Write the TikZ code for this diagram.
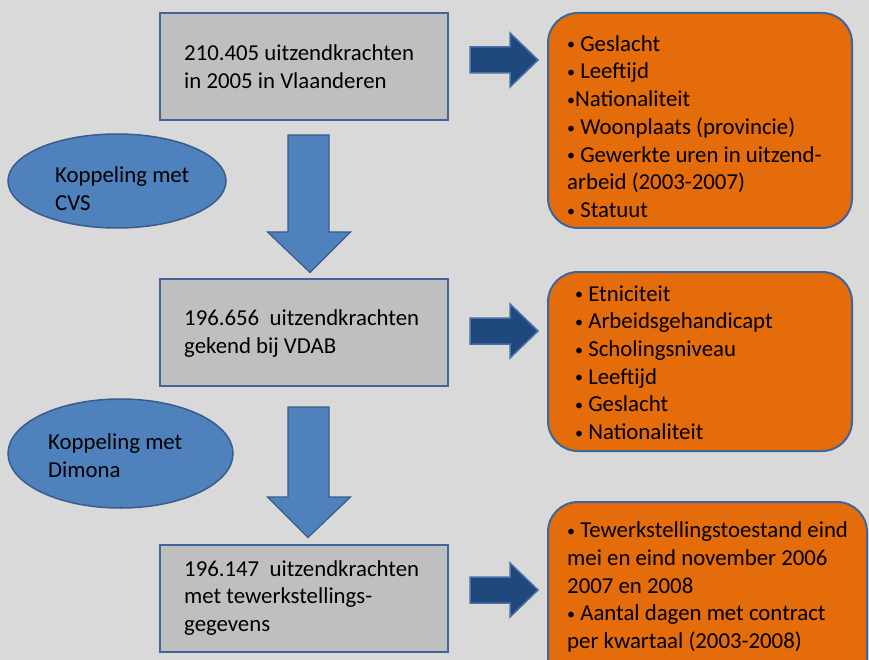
\documentclass[tikz,border=0pt]{standalone}
\usepackage{fontspec}
\setmainfont{Carlito}
\usetikzlibrary{shapes.geometric,calc}

\definecolor{bgGray}{HTML}{D9D9D9}
\definecolor{boxGray}{HTML}{BFBFBF}
\definecolor{edgeBlue}{HTML}{41659B}
\definecolor{accBlue}{HTML}{4F81BD}
\definecolor{accEdge}{HTML}{385D8A}
\definecolor{darkBlue}{HTML}{1F497D}
\definecolor{arrEdge}{HTML}{4A6FA5}
\definecolor{orangeFill}{HTML}{E46C0A}

% small list bullet
\newcommand{\lbul}{\raisebox{0.12ex}{\scalebox{0.7}{\textbullet}}}

\tikzset{
  txt/.style={font=\fontsize{22.8}{27.7}\selectfont, text=black},
  graybox/.style={draw=edgeBlue, line width=2pt, fill=boxGray,
    rectangle, inner sep=0pt, minimum width=288pt, minimum height=107pt},
  orangebox/.style={draw=edgeBlue, line width=2pt, fill=orangeFill,
    rectangle, rounded corners=30pt, inner sep=0pt},
  listtext/.style={txt, align=left, inner sep=0pt, anchor=west},
  blob/.style={ellipse, draw=accEdge, line width=1.5pt, fill=accBlue, inner sep=0pt},
  downarrow/.style={draw=accEdge, line width=1.2pt, fill=accBlue, line join=miter},
  rightarrow/.style={draw=arrEdge, line width=1.5pt, fill=darkBlue, line join=miter},
}

\begin{document}
\begin{tikzpicture}[x=1pt,y=-1pt]
  % canvas
  \fill[bgGray] (0,0) rectangle (869,660);
  \useasboundingbox (0,0) rectangle (869,660);
  \clip (0,0) rectangle (869,660);

  % main flow of counts
  \node[graybox] (b1) at (304,66.5) {};
  \node[listtext] (b1t) at ($(b1.west)+(25,0)$) {210.405 uitzendkrachten\\in 2005 in Vlaanderen};
  \node[graybox] (b2) at (304,332.5) {};
  \node[listtext] (b2t) at ($(b2.west)+(25,1)$) {196.656\ \ uitzendkrachten\\gekend bij VDAB};
  \node[graybox] (b3) at (304,598) {};
  \node[listtext] (b3t) at ($(b3.west)+(25,0)$) {196.147\ \ uitzendkrachten\\met tewerkstellings-\\gegevens};

  % linkage ellipses
  \node[blob, minimum width=218pt, minimum height=94pt] (e1) at (117,181) {};
  \node[listtext] (e1t) at (55,188.5) {Koppeling met\\CVS};
  \node[blob, minimum width=225pt, minimum height=109pt] (e2) at (120.5,453.5) {};
  \node[listtext] (e2t) at (48,456) {Koppeling met\\Dimona};

  % variable lists
  \node[orangebox, minimum width=304pt, minimum height=215pt] (o1) at (700,120.5) {};
  \node[listtext] (o1t) at (567,126.5) {%
    \lbul\ Geslacht\\
    \lbul\ Leeftijd\\
    \lbul Nationaliteit\\
    \lbul\ Woonplaats (provincie)\\
    \lbul\ Gewerkte uren in uitzend-\\
    arbeid (2003-2007)\\
    \lbul\ Statuut};

  \node[orangebox, minimum width=304pt, minimum height=179pt] (o2) at (700,361.5) {};
  \node[listtext] (o2t) at (575,362.5) {%
    \lbul\ Etniciteit\\
    \lbul\ Arbeidsgehandicapt\\
    \lbul\ Scholingsniveau\\
    \lbul\ Leeftijd\\
    \lbul\ Geslacht\\
    \lbul\ Nationaliteit};

  \node[orangebox, minimum width=319pt, minimum height=200pt] (o3) at (707.5,602) {};
  \node[listtext] (o3t) at (567,587) {%
    \lbul\ Tewerkstellingstoestand eind\\
    mei en eind november 2006\\
    2007 en 2008\\
    \lbul\ Aantal dagen met contract\\
    per kwartaal (2003-2008)};

  % downward block arrows between the count boxes
  \coordinate (d1s) at ($(b1.south)+(4.5,14)$);
  \coordinate (d1e) at ($(b2.north)+(6,-5.5)$);
  \coordinate (d2s) at ($(b2.south)+(4.5,20)$);
  \coordinate (d2e) at ($(b3.north)+(4,-6)$);
  \foreach \s/\e in {d1s/d1e, d2s/d2e}{
    \draw[downarrow]
      ($(\s)+(-20.5,0)$) -- ($(\s)+(20.5,0)$)
      -- ($(\s |- \e)+(20.5,-40.5)$) -- ($(\s |- \e)+(42,-40.5)$)
      -- (\e)
      -- ($(\s |- \e)+(-41,-40.5)$) -- ($(\s |- \e)+(-20.5,-40.5)$) -- cycle;
  }

  % rightward block arrows towards the variable lists
  \coordinate (r1s) at ($(b1.east |- 0,60)+(21,0)$);
  \coordinate (r2s) at ($(b2.east |- 0,331)+(21,0)$);
  \coordinate (r3s) at ($(b3.east |- 0,590)+(21,0)$);
  \foreach \s in {r1s, r2s, r3s}{
    \draw[rightarrow]
      ($(\s)+(0,-13)$) -- ($(\s)+(40,-13)$) -- ($(\s)+(40,-27)$)
      -- ($(\s)+(68,0)$)
      -- ($(\s)+(40,27)$) -- ($(\s)+(40,13)$) -- ($(\s)+(0,13)$) -- cycle;
  }
\end{tikzpicture}
\end{document}
